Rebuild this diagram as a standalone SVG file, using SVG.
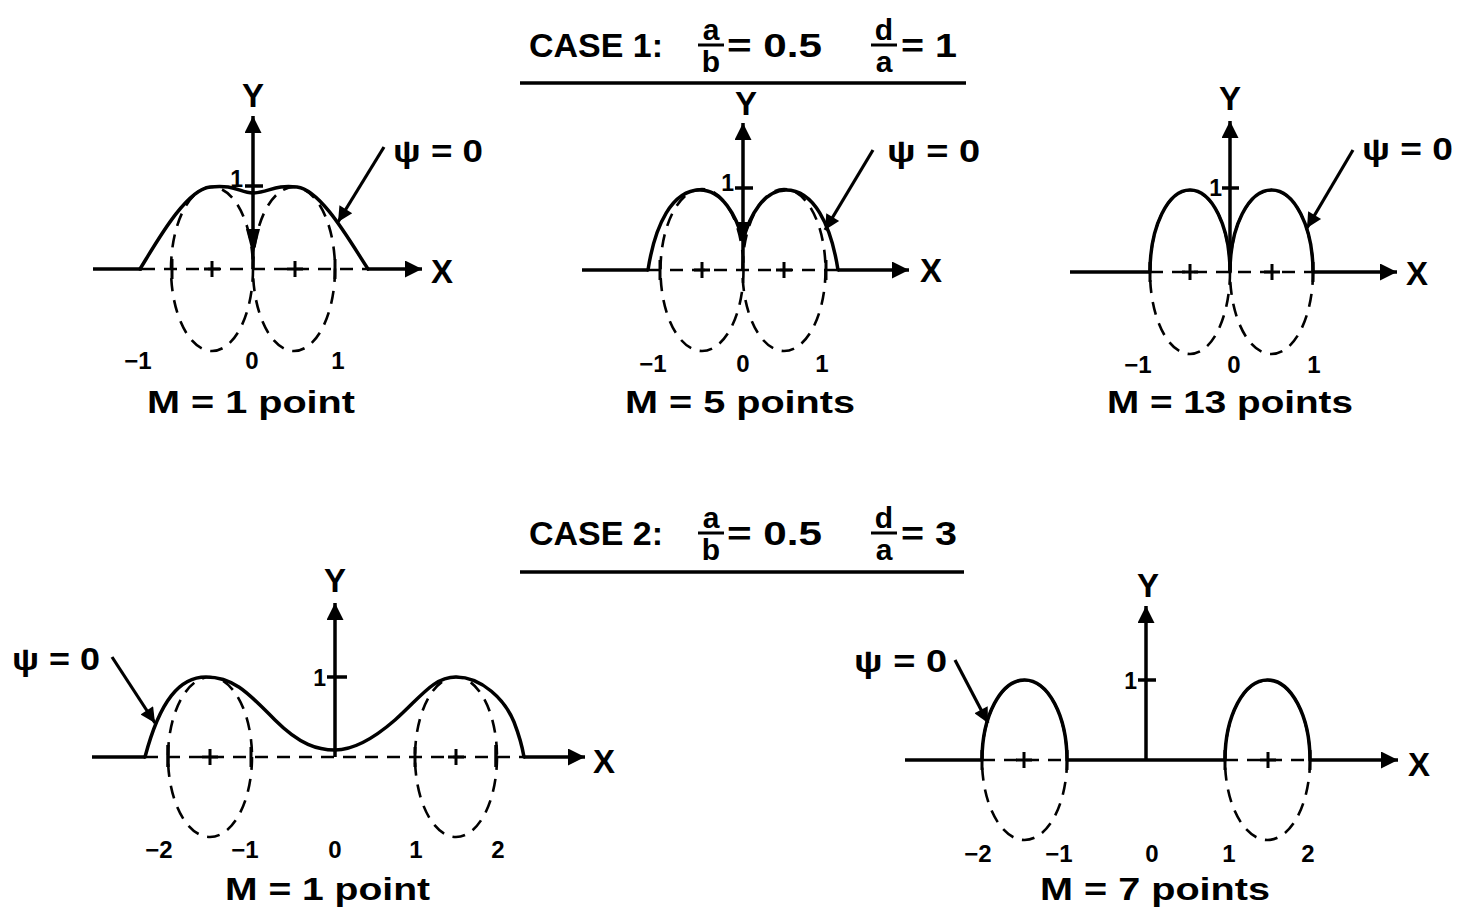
<svg xmlns="http://www.w3.org/2000/svg" width="1460" height="915" viewBox="0 0 1460 915">
<style>
.ax{stroke:#000;stroke-width:3.5;fill:none}
.cv{stroke:#000;stroke-width:3.5;fill:none;stroke-linejoin:round;stroke-linecap:round}
.dl{stroke:#000;stroke-width:2.6;fill:none;stroke-dasharray:13 9}
.pl{stroke:#000;stroke-width:3;fill:none}
.ld{stroke:#000;stroke-width:3.2;fill:none}
.t{font-family:"Liberation Sans",Arial,sans-serif;font-weight:bold;fill:#000}
.ti{font-size:33px}
.fr{font-size:30px}
.cap{font-size:32px}
.num{font-size:24px}
.axl{font-size:33px}
.psi{font-size:32px}
.tk{font-size:23px}
</style>
<defs>
<marker id="ah" viewBox="0 0 10 10" refX="10" refY="5" markerWidth="22" markerHeight="17" markerUnits="userSpaceOnUse" orient="auto"><path d="M0,0 L10,5 L0,10 z" fill="#000"/></marker>
<marker id="ap" viewBox="0 0 10 10" refX="10" refY="5" markerWidth="20" markerHeight="15" markerUnits="userSpaceOnUse" orient="auto"><path d="M0,0 L10,5 L0,10 z" fill="#000"/></marker>
</defs>
<rect width="1460" height="915" fill="#fff"/>

<g id="title1">
<text class="t ti" x="529" y="57" textLength="134" lengthAdjust="spacingAndGlyphs">CASE 1:</text>
<text class="t fr" x="711" y="40" text-anchor="middle">a</text>
<line class="pl" x1="698" y1="45" x2="724" y2="45"/>
<text class="t fr" x="711" y="72" text-anchor="middle">b</text>
<text class="t ti" x="727" y="57" textLength="95" lengthAdjust="spacingAndGlyphs">= 0.5</text>
<text class="t fr" x="884" y="40" text-anchor="middle">d</text>
<line class="pl" x1="871" y1="45" x2="897" y2="45"/>
<text class="t fr" x="884" y="72" text-anchor="middle">a</text>
<text class="t ti" x="901" y="57" textLength="56" lengthAdjust="spacingAndGlyphs">= 1</text>
<line class="ax" x1="520" y1="83" x2="966" y2="83" stroke-width="2.5"/>
</g>

<g id="title2">
<text class="t ti" x="529" y="545" textLength="134" lengthAdjust="spacingAndGlyphs">CASE 2:</text>
<text class="t fr" x="711" y="528" text-anchor="middle">a</text>
<line class="pl" x1="698" y1="533" x2="724" y2="533"/>
<text class="t fr" x="711" y="560" text-anchor="middle">b</text>
<text class="t ti" x="727" y="545" textLength="95" lengthAdjust="spacingAndGlyphs">= 0.5</text>
<text class="t fr" x="884" y="528" text-anchor="middle">d</text>
<line class="pl" x1="871" y1="533" x2="897" y2="533"/>
<text class="t fr" x="884" y="560" text-anchor="middle">a</text>
<text class="t ti" x="901" y="545" textLength="56" lengthAdjust="spacingAndGlyphs">= 3</text>
<line class="ax" x1="520" y1="572" x2="964" y2="572" stroke-width="2.5"/>
</g>

<g id="panel1">
<ellipse class="dl" cx="212" cy="269" rx="41" ry="82"/>
<ellipse class="dl" cx="294" cy="269" rx="41" ry="82"/>
<line class="ax" x1="93" y1="269" x2="142" y2="269"/>
<line class="dl" x1="142" y1="269" x2="367" y2="269"/>
<line class="ax" x1="367" y1="269" x2="422" y2="269" marker-end="url(#ah)"/>
<line class="ax" x1="253" y1="269" x2="253" y2="116" marker-end="url(#ah)"/>
<line class="ax" x1="245" y1="186" x2="263" y2="186"/>
<path class="pl" d="M212,261v16M204,269h16M295,261v16M287,269h16M172,259v20M335,259v20"/>
<path class="cv" d="M140,269 C155,245 185,190 210,187 C235,184 240,193 253,193 C268,193 275,184 297,187 C322,190 352,245 368,269"/>
<polygon points="246,229 260,229 253,256" fill="#000"/>
<text class="t axl" x="253" y="107" text-anchor="middle">Y</text>
<text class="t axl" x="442" y="283" text-anchor="middle">X</text>
<text class="t tk" x="243" y="187" text-anchor="end">1</text>
<text class="t num" x="138" y="369" text-anchor="middle">−1</text>
<text class="t num" x="252" y="369" text-anchor="middle">0</text>
<text class="t num" x="338" y="369" text-anchor="middle">1</text>
<text class="t cap" x="147" y="413" textLength="208" lengthAdjust="spacingAndGlyphs">M = 1 point</text>
<text class="t psi" x="393" y="162" textLength="90" lengthAdjust="spacingAndGlyphs">ψ = 0</text>
</g>

<g id="panel2">
<ellipse class="dl" cx="702" cy="270" rx="41.5" ry="81"/>
<ellipse class="dl" cx="784" cy="270" rx="41.5" ry="81"/>
<line class="ax" x1="582" y1="270" x2="648" y2="270"/>
<line class="dl" x1="648" y1="270" x2="838" y2="270"/>
<line class="ax" x1="838" y1="270" x2="909" y2="270" marker-end="url(#ah)"/>
<line class="ax" x1="743" y1="270" x2="743" y2="123" marker-end="url(#ah)"/>
<line class="ax" x1="735" y1="188" x2="753" y2="188"/>
<path class="pl" d="M702,262v16M694,270h16M784,262v16M776,270h16M660,260v20M826,260v20"/>
<path class="cv" d="M648,270 C655,225 672,190 700,190 C722,190 736,215 743,240 C750,215 764,190 786,190 C814,190 831,225 838,270"/>
<polygon points="736,222 750,222 743,245" fill="#000"/>
<text class="t axl" x="746" y="115" text-anchor="middle">Y</text>
<text class="t axl" x="931" y="282" text-anchor="middle">X</text>
<text class="t tk" x="734" y="191" text-anchor="end">1</text>
<text class="t num" x="653" y="372" text-anchor="middle">−1</text>
<text class="t num" x="743" y="372" text-anchor="middle">0</text>
<text class="t num" x="822" y="372" text-anchor="middle">1</text>
<text class="t cap" x="625" y="413" textLength="230" lengthAdjust="spacingAndGlyphs">M = 5 points</text>
<text class="t psi" x="887" y="162" textLength="93" lengthAdjust="spacingAndGlyphs">ψ = 0</text>
</g>

<g id="panel3">
<ellipse class="dl" cx="1190" cy="272" rx="40" ry="82"/>
<ellipse class="dl" cx="1271.5" cy="272" rx="41.5" ry="82"/>
<line class="ax" x1="1070" y1="272" x2="1150" y2="272"/>
<line class="dl" x1="1150" y1="272" x2="1313" y2="272"/>
<line class="ax" x1="1313" y1="272" x2="1397" y2="272" marker-end="url(#ah)"/>
<line class="ax" x1="1230" y1="272" x2="1230" y2="121" marker-end="url(#ah)"/>
<line class="ax" x1="1222" y1="188" x2="1239" y2="188"/>
<path class="pl" d="M1190,264v16M1182,272h16M1272,264v16M1264,272h16M1150,262v20M1313,262v20"/>
<path class="cv" d="M1150,272 A40,82 0 0 1 1230,272 A41.5,82 0 0 1 1313,272"/>
<text class="t axl" x="1230" y="110" text-anchor="middle">Y</text>
<text class="t axl" x="1417" y="285" text-anchor="middle">X</text>
<text class="t tk" x="1222" y="196" text-anchor="end">1</text>
<text class="t num" x="1138" y="373" text-anchor="middle">−1</text>
<text class="t num" x="1234" y="373" text-anchor="middle">0</text>
<text class="t num" x="1314" y="373" text-anchor="middle">1</text>
<text class="t cap" x="1107" y="413" textLength="246" lengthAdjust="spacingAndGlyphs">M = 13 points</text>
<text class="t psi" x="1362" y="160" textLength="91" lengthAdjust="spacingAndGlyphs">ψ = 0</text>
</g>

<g id="panel4">
<ellipse class="dl" cx="210" cy="757" rx="42" ry="80"/>
<ellipse class="dl" cx="456" cy="757" rx="41" ry="80"/>
<line class="ax" x1="92" y1="757" x2="145" y2="757"/>
<line class="dl" x1="145" y1="757" x2="524" y2="757"/>
<line class="ax" x1="524" y1="757" x2="585" y2="757" marker-end="url(#ah)"/>
<line class="ax" x1="335" y1="757" x2="335" y2="603" marker-end="url(#ah)"/>
<line class="ax" x1="327" y1="677" x2="347" y2="677"/>
<path class="pl" d="M210,749v16M202,757h16M456,749v16M448,757h16M415,747v20M251,747v20"/>
<path class="ax" d="M168,745v22M496,745v22" stroke-width="4.5"/>
<path class="cv" d="M145,757 C160,700 180,677 206,677 C235,677 250,695 275,720 C300,745 318,750 335,750 C352,750 372,740 395,720 C420,698 433,677 456,677 C482,677 505,700 514,722 C519,735 522,745 524,757"/>
<text class="t axl" x="335" y="592" text-anchor="middle">Y</text>
<text class="t axl" x="604" y="773" text-anchor="middle">X</text>
<text class="t tk" x="326" y="686" text-anchor="end">1</text>
<text class="t num" x="159" y="858" text-anchor="middle">−2</text>
<text class="t num" x="245" y="858" text-anchor="middle">−1</text>
<text class="t num" x="335" y="858" text-anchor="middle">0</text>
<text class="t num" x="416" y="858" text-anchor="middle">1</text>
<text class="t num" x="498" y="858" text-anchor="middle">2</text>
<text class="t cap" x="225" y="900" textLength="205" lengthAdjust="spacingAndGlyphs">M = 1 point</text>
<text class="t psi" x="12" y="670" textLength="88" lengthAdjust="spacingAndGlyphs">ψ = 0</text>
</g>

<g id="panel5">
<ellipse class="dl" cx="1024.5" cy="760" rx="42.5" ry="80"/>
<ellipse class="dl" cx="1267.5" cy="760" rx="42.5" ry="80"/>
<line class="ax" x1="905" y1="760" x2="982" y2="760"/>
<line class="dl" x1="982" y1="760" x2="1067" y2="760"/>
<line class="ax" x1="1067" y1="760" x2="1225" y2="760"/>
<line class="dl" x1="1225" y1="760" x2="1310" y2="760"/>
<line class="ax" x1="1310" y1="760" x2="1398" y2="760" marker-end="url(#ah)"/>
<line class="ax" x1="1146" y1="760" x2="1146" y2="606" marker-end="url(#ah)"/>
<line class="ax" x1="1138" y1="680" x2="1156" y2="680"/>
<path class="pl" d="M1024,752v16M1016,760h16M1268,752v16M1260,760h16M982,750v20M1067,750v20M1225,750v20M1310,750v20"/>
<path class="cv" d="M982,760 A42.5,80 0 0 1 1067,760 M1225,760 A42.5,80 0 0 1 1310,760"/>
<text class="t axl" x="1148" y="597" text-anchor="middle">Y</text>
<text class="t axl" x="1419" y="776" text-anchor="middle">X</text>
<text class="t tk" x="1137" y="689" text-anchor="end">1</text>
<text class="t num" x="978" y="862" text-anchor="middle">−2</text>
<text class="t num" x="1059" y="862" text-anchor="middle">−1</text>
<text class="t num" x="1152" y="862" text-anchor="middle">0</text>
<text class="t num" x="1229" y="862" text-anchor="middle">1</text>
<text class="t num" x="1308" y="862" text-anchor="middle">2</text>
<text class="t cap" x="1040" y="900" textLength="230" lengthAdjust="spacingAndGlyphs">M = 7 points</text>
<text class="t psi" x="854" y="672" textLength="93" lengthAdjust="spacingAndGlyphs">ψ = 0</text>
</g>

<g id="connectors">
<line class="ld" x1="384" y1="147" x2="338" y2="222" marker-end="url(#ap)"/>
<line class="ld" x1="873" y1="150" x2="825" y2="230" marker-end="url(#ap)"/>
<line class="ld" x1="1353" y1="150" x2="1307" y2="228" marker-end="url(#ap)"/>
<line class="ld" x1="112" y1="657" x2="155" y2="723" marker-end="url(#ap)"/>
<line class="ld" x1="955" y1="660" x2="988" y2="723" marker-end="url(#ap)"/>
</g>
</svg>
